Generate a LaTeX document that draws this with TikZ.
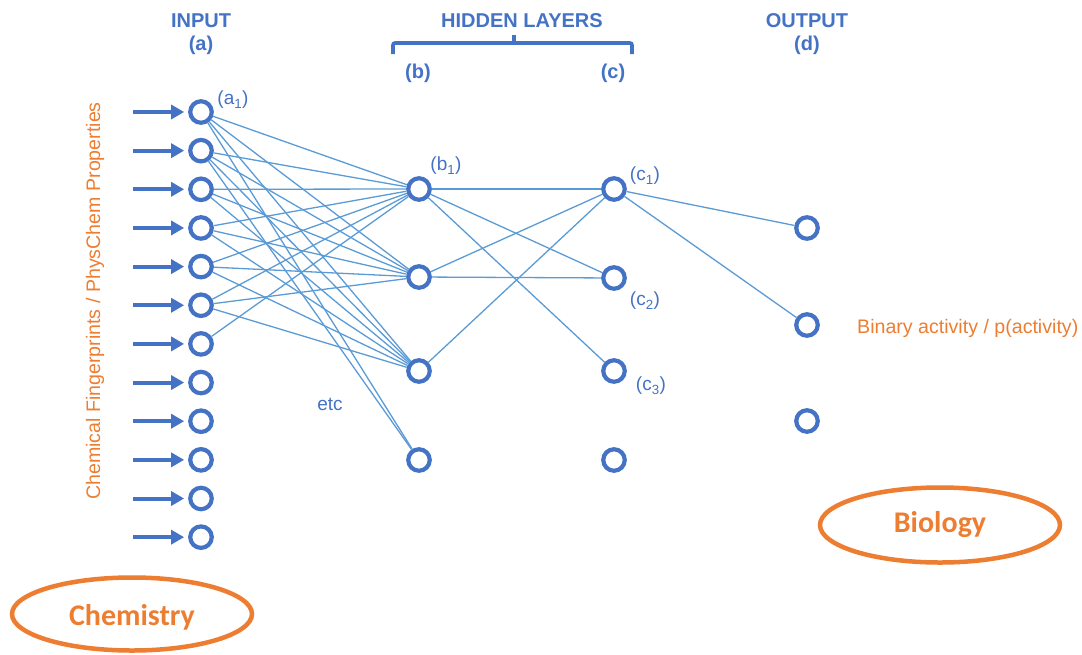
\documentclass[tikz,border=0pt]{standalone}
\usepackage{fontspec}
\setmainfont{Liberation Sans}
\newfontfamily\calibri{Carlito}
\usetikzlibrary{arrows.meta,shapes.geometric}
\definecolor{nblue}{HTML}{4472C4}
\definecolor{lblue}{HTML}{5B9BD5}
\definecolor{orng}{HTML}{ED7D31}
\begin{document}
\begin{tikzpicture}[x=1pt,y=-1pt,
  neuron/.style={circle, draw=nblue, fill=white, line width=4.2pt, minimum size=21.5pt, inner sep=0pt},
  conn/.style={draw=lblue, line width=1.3pt},
  inarrow/.style={draw=nblue, line width=4pt, -{Triangle[length=13pt,width=14pt]}, shorten >=4pt},
  head/.style={text=nblue, font=\fontsize{20}{22}\selectfont\bfseries},
  lab/.style={text=nblue, font=\fontsize{19}{21}\selectfont},
  otext/.style={text=orng, font=\fontsize{19.6}{22}\selectfont},
  blob/.style={ellipse, draw=orng, line width=4.5pt, text=orng, inner sep=0pt, font=\calibri\fontsize{30}{34}\selectfont\bfseries}
]
\useasboundingbox (0,0) rectangle (1082,654);
% input nodes
\foreach \i in {1,...,12} {
  \pgfmathsetmacro{\yy}{112+38.65*(\i-1)}
  \node[neuron] (a\i) at (201,\yy) {};
  \coordinate (s\i) at (133,\yy);
}
% hidden b
\node[neuron] (b1) at (419,189) {};
\node[neuron] (b2) at (419,277) {};
\node[neuron] (b3) at (419,371) {};
\node[neuron] (b4) at (419,460) {};
% hidden c
\node[neuron] (c1) at (614,189) {};
\node[neuron] (c2) at (614,278) {};
\node[neuron] (c3) at (614,371) {};
\node[neuron] (c4) at (614,460) {};
% output d
\node[neuron] (d1) at (807,228) {};
\node[neuron] (d2) at (807,325) {};
\node[neuron] (d3) at (807,421) {};
% connections a -> b
\foreach \i in {1,...,6} {
  \foreach \j in {1,2,3} { \draw[conn] (a\i) -- (b\j); }
}
\draw[conn] (a1) -- (b4);
\draw[conn] (a2) -- (b4);
\draw[conn] (a7) -- (b1);
% b -> c
\draw[conn] (b1) -- (c1);
\draw[conn] (b1) -- (c2);
\draw[conn] (b1) -- (c3);
\draw[conn] (b2) -- (c1);
\draw[conn] (b2) -- (c2);
\draw[conn] (b3) -- (c1);
% c -> d
\draw[conn] (c1) -- (d1);
\draw[conn] (c1) -- (d2);
% input arrows
\foreach \i in {1,...,12} { \draw[inarrow] (s\i) -- (a\i); }
% headings
\node[head] (tin) at (201,21) {INPUT};
\node[head] (ta) at (201,45) {(a)};
\node[head] (thid) at (522,21) {HIDDEN LAYERS};
\node[head] (tb) at (418,73) {(b)};
\node[head] (tc) at (613,73) {(c)};
\node[head] (tout) at (807,21) {OUTPUT};
\node[head] (td) at (807,45) {(d)};
% brace
\coordinate (brL) at (393,54);
\coordinate (brR) at (632,54);
\coordinate (brM) at (514,35);
\draw[nblue, line width=3.6pt, rounded corners=2pt] (brL) -- (393,43) -- (632,43) -- (brR);
\draw[nblue, line width=3.6pt] (514,43) -- (brM);
% small labels
\node[lab] (la1) at (233,100) {(a\textsubscript{1})};
\node[lab] (lb1) at (446,166) {(b\textsubscript{1})};
\node[lab] (lc1) at (645,176) {(c\textsubscript{1})};
\node[lab] (lc2) at (645,301) {(c\textsubscript{2})};
\node[lab] (lc3) at (651,386) {(c\textsubscript{3})};
\node[lab] (etc) at (330,404) {etc};
% orange texts
\node[otext, anchor=west, inner sep=0pt] (bin) at (857,328) {Binary activity / p(activity)};
\node[otext, rotate=90] (chemfp) at (95,301) {Chemical Fingerprints / PhysChem Properties};
\node[blob, minimum width=240pt, minimum height=73pt] (chem) at (132,614) {};
\node[text=orng, font=\calibri\fontsize{30}{34}\selectfont\bfseries] (chemt) at (132,617) {Chemistry};
\node[blob, minimum width=240pt, minimum height=75pt] (bio) at (940,525) {Biology};
\end{tikzpicture}
\end{document}
